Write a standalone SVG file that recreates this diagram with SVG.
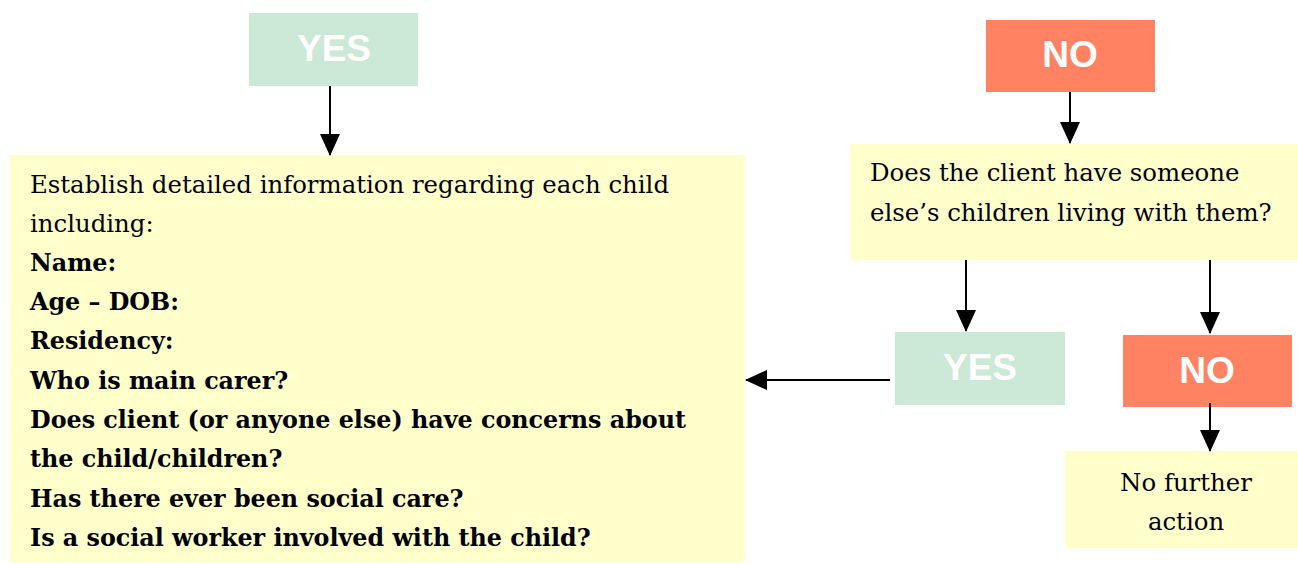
<svg xmlns="http://www.w3.org/2000/svg" width="1298" height="564" viewBox="0 0 1298 564">
<style>
.yes{fill:#CCE8D6}
.no{fill:#FF8262}
.box{fill:#FFFFCC}
.lbl{font-family:"Liberation Sans",Arial,sans-serif;font-weight:bold;font-size:37px;fill:#fff;text-anchor:middle}
.t{font-family:"DejaVu Serif","Liberation Serif",serif;font-size:24.4px;fill:#000}
.b{font-weight:bold;font-size:23.8px}
.c{text-anchor:middle}
.ln{stroke:#000;stroke-width:2;fill:none;marker-end:url(#ah)}
</style>
<defs>
<marker id="ah" markerWidth="22" markerHeight="20" refX="21" refY="10" orient="auto" markerUnits="userSpaceOnUse">
<path d="M0,0 L22,10 L0,20 Z" fill="#000"/>
</marker>
</defs>
<g id="yes1"><rect class="yes" x="249" y="13" width="169" height="73"/><text class="lbl" x="334" y="61">YES</text></g>
<g id="info"><rect class="box" x="10" y="155" width="735" height="407"/>
<text class="t" x="30" y="193">Establish detailed information regarding each child</text>
<text class="t" x="30" y="232">including:</text>
<text class="t b" x="30" y="271">Name:</text>
<text class="t b" x="30" y="310">Age – DOB:</text>
<text class="t b" x="30" y="349">Residency:</text>
<text class="t b" x="30" y="389">Who is main carer?</text>
<text class="t b" x="30" y="428">Does client (or anyone else) have concerns about</text>
<text class="t b" x="30" y="467">the child/children?</text>
<text class="t b" x="30" y="507">Has there ever been social care?</text>
<text class="t b" x="30" y="546">Is a social worker involved with the child?</text>
</g>
<g id="no1"><rect class="no" x="986" y="20" width="169" height="72"/><text class="lbl" x="1070" y="67">NO</text></g>
<g id="question"><rect class="box" x="850" y="144" width="448" height="116"/>
<text class="t" x="870" y="181">Does the client have someone</text>
<text class="t" x="870" y="221">else’s children living with them?</text>
</g>
<g id="yes2"><rect class="yes" x="895" y="332" width="170" height="73"/><text class="lbl" x="980" y="380">YES</text></g>
<g id="no2"><rect class="no" x="1123" y="335" width="169" height="72"/><text class="lbl" x="1207" y="383">NO</text></g>
<g id="nfa"><rect class="box" x="1065" y="451" width="233" height="97"/>
<text class="t c" x="1186" y="491">No further</text>
<text class="t c" x="1186" y="530">action</text>
</g>
<g id="connectors">
<line class="ln" x1="330" y1="86" x2="330" y2="155"/>
<line class="ln" x1="1070" y1="92" x2="1070" y2="143"/>
<line class="ln" x1="966" y1="260" x2="966" y2="331"/>
<line class="ln" x1="1210" y1="260" x2="1210" y2="333"/>
<line class="ln" x1="1210" y1="403" x2="1210" y2="451"/>
<line class="ln" x1="890" y1="380" x2="746" y2="380"/>
</g>
</svg>
